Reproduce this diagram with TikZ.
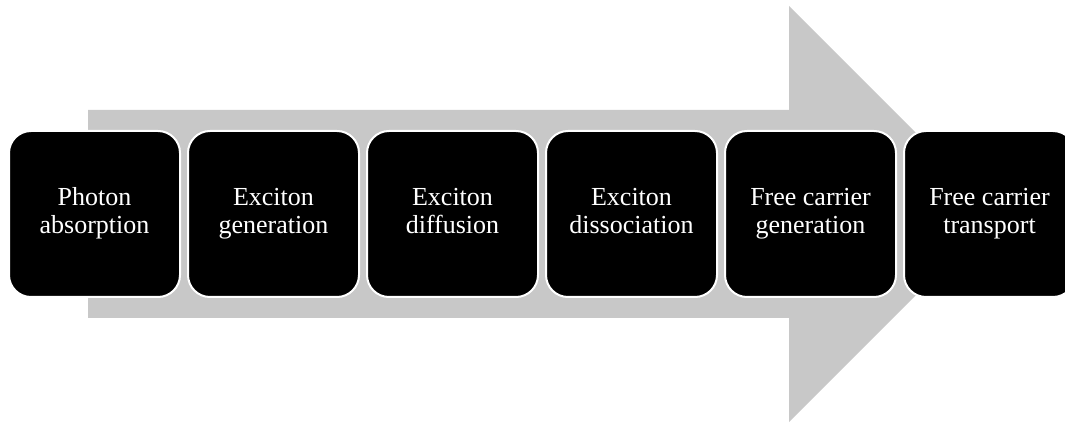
\documentclass[tikz,border=0pt]{standalone}
\usepackage{fontspec}
\setmainfont{Liberation Serif}
\usetikzlibrary{positioning}
\definecolor{arrowgray}{RGB}{200,200,200}
\newcommand{\lnstrut}{\rule[-7pt]{0pt}{22pt}}

\begin{document}
\begin{tikzpicture}[x=1pt, y=1pt]
        \tikzstyle{stagebox}=[fill=black, draw=white, line width=2pt, rounded corners=22pt,
            minimum width=171pt, minimum height=166pt, outer sep=0pt, inner sep=2pt,
            text=white, align=center, font=\fontsize{26}{28}\selectfont]

        \useasboundingbox (0,0) rectangle (1065,423);
        \clip (0,0) rectangle (1065,423);

        % big grey arrow behind the stages
        \fill[arrowgray] (88,105) -- (789,105) -- (789,1) -- (997,209)
            -- (789,417) -- (789,313) -- (88,313) -- cycle;

        \node[stagebox] (photon) at (94.5,209) {\lnstrut Photon\\\lnstrut absorption};
        \node[stagebox, right=8pt of photon] (generation) {\lnstrut Exciton\\\lnstrut generation};
        \node[stagebox, right=8pt of generation] (diffusion) {\lnstrut Exciton\\\lnstrut diffusion};
        \node[stagebox, right=8pt of diffusion] (dissociation) {\lnstrut Exciton\\\lnstrut dissociation};
        \node[stagebox, right=8pt of dissociation] (carriergen) {\lnstrut Free carrier\\\lnstrut generation};
        \node[stagebox, right=8pt of carriergen] (transport) {\lnstrut Free carrier\\\lnstrut transport};

\end{tikzpicture}
\end{document}
